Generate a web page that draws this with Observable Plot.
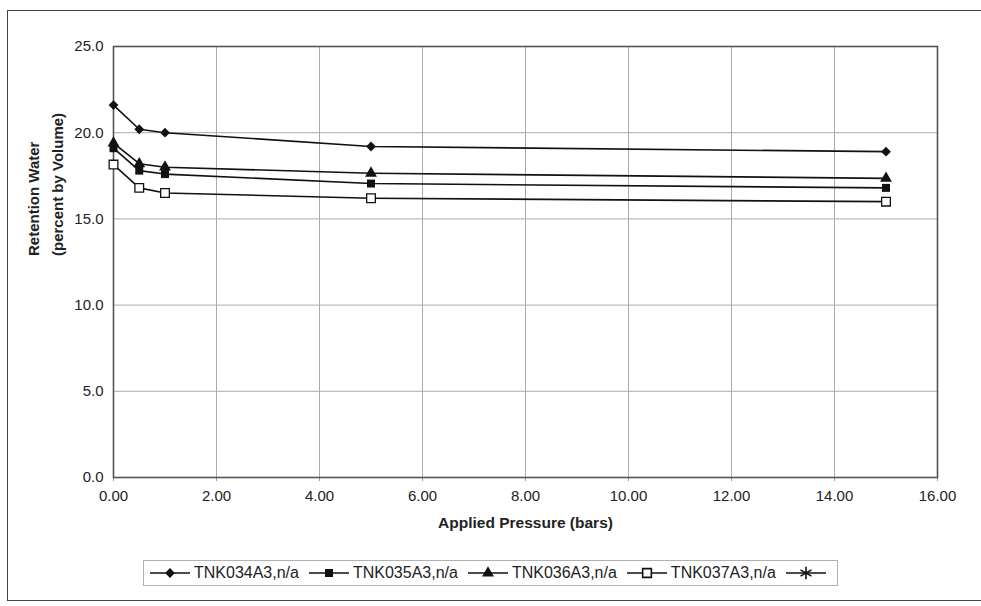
<!DOCTYPE html>
<html>
<head>
<meta charset="utf-8">
<script src="https://cdn.jsdelivr.net/npm/d3@7"></script>
<script src="https://cdn.jsdelivr.net/npm/@observablehq/plot@0.6"></script>
<style>
  body { margin: 0; background: #fff; font-family: "Liberation Sans", Arial, sans-serif; }
  #wrap { position: relative; width: 981px; height: 606px; overflow: hidden; background: #fff; }
  #border { position: absolute; left: 7px; top: 10px; width: 1000px; height: 589px; border: 1.5px solid #444; }
  #chart { position: absolute; left: 0; top: 0; }
  #legend { position: absolute; left: 143px; top: 560px; width: 695px; height: 26px; box-sizing: border-box;
            border: 1px solid #b0b0b0; display: flex; align-items: center; padding-left: 5px;
            font-size: 16px; color: #222; white-space: nowrap; }
  .item { display: flex; align-items: center; }
  .item span { margin-left: 3px; margin-right: 9px; }
</style>
</head>
<body>
<div id="wrap">
  <div id="border"></div>
  <div id="chart"></div>
  <div id="legend"></div>
</div>
<script>
// ---- data ----
const pressure = [0, 0.5, 1, 5, 15];
const tnk034 = [21.6, 20.2, 20.0, 19.2, 18.9];
const tnk035 = [19.1, 17.8, 17.6, 17.05, 16.8];
const tnk036 = [19.4, 18.2, 18.0, 17.65, 17.35];
const tnk037 = [18.15, 16.8, 16.5, 16.2, 16.0];
const tnkStar = [];
const seriesNames = ["TNK034A3,n/a", "TNK035A3,n/a", "TNK036A3,n/a", "TNK037A3,n/a", ""];
const xTicks = [0, 2, 4, 6, 8, 10, 12, 14, 16];
const yTicks = [0, 5, 10, 15, 20, 25];
const xTitle = "Applied Pressure (bars)";
const yTitle = "Retention Water\n(percent by Volume)";

// ---- styles ----
const seriesValues = [tnk034, tnk035, tnk036, tnk037, tnkStar];
const styles = [
  {symbol: "diamond2", fill: "#111", stroke: "none", r: 4.4},
  {symbol: "square",   fill: "#111", stroke: "none", r: 4.5},
  {symbol: "triangle", fill: "#111", stroke: "none", r: 4.4},
  {symbol: "square",   fill: "#fff", stroke: "#111", r: 4.9},
  {symbol: "asterisk", fill: "none", stroke: "#111", r: 6}
];

const series = seriesNames.map((name, i) => ({
  name,
  style: styles[i],
  rows: seriesValues[i].map((v, j) => ({x: pressure[j], y: v}))
}));

const marks = [
  Plot.gridX(xTicks, {stroke: "#aaa", strokeOpacity: 1, strokeWidth: 1}),
  Plot.gridY(yTicks, {stroke: "#aaa", strokeOpacity: 1, strokeWidth: 1}),
  Plot.axisX(xTicks, {tickFormat: d3.format(".2f"), tickSize: 4, tickPadding: 9, stroke: "#999", label: null, fontSize: 15}),
  Plot.axisY(yTicks, {tickFormat: d3.format(".1f"), tickSize: 0, tickPadding: 10, label: null, fontSize: 15}),
  Plot.frame({stroke: "#555", strokeWidth: 1.6})
];
for (const s of series) {
  if (!s.rows.length) continue;
  marks.push(Plot.line(s.rows, {x: "x", y: "y", stroke: "#111", strokeWidth: 1.6}));
}
for (const s of series) {
  if (!s.rows.length) continue;
  marks.push(Plot.dot(s.rows, {x: "x", y: "y", symbol: s.style.symbol, r: s.style.r,
    fill: s.style.fill, stroke: s.style.stroke, strokeWidth: 1.3}));
}
marks.push(Plot.text([xTitle], {text: d => d, frameAnchor: "bottom", dy: 50, fontWeight: "bold", fontSize: 15.5, fill: "#222"}));
marks.push(Plot.text([yTitle], {text: d => d, frameAnchor: "left", dx: -70, dy: -6, rotate: -90,
  fontWeight: "bold", fontSize: 15, lineHeight: 1.6, fill: "#222"}));

const chart = Plot.plot({
  width: 981,
  height: 545,
  marginLeft: 113,
  marginRight: 44,
  marginTop: 46,
  marginBottom: 68,
  style: {fontFamily: "Liberation Sans, Arial, sans-serif", fontSize: "15px", color: "#222", background: "transparent"},
  x: {type: "linear", domain: [0, 16]},
  y: {type: "linear", domain: [0, 25]},
  marks
});
document.getElementById("chart").appendChild(chart);

// ---- legend ----
const symMap = {diamond2: d3.symbolDiamond2, square: d3.symbolSquare, triangle: d3.symbolTriangle, asterisk: d3.symbolAsterisk};
const legend = d3.select("#legend");
series.forEach(s => {
  const item = legend.append("div").attr("class", "item");
  const svg = item.append("svg").attr("width", 42).attr("height", 16);
  svg.append("line").attr("x1", 1).attr("x2", 41).attr("y1", 8).attr("y2", 8).attr("stroke", "#111").attr("stroke-width", 1.6);
  svg.append("path")
    .attr("transform", "translate(21,8)")
    .attr("d", d3.symbol(symMap[s.style.symbol], Math.PI * s.style.r * s.style.r)())
    .attr("fill", s.style.fill).attr("stroke", s.style.stroke).attr("stroke-width", 1.6);
  if (s.name) item.append("span").text(s.name);
});
</script>
</body>
</html>
